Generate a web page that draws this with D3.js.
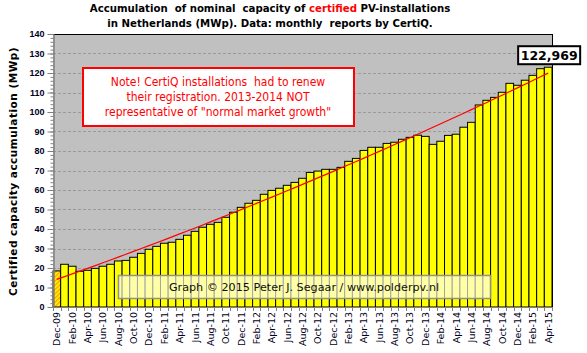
<!DOCTYPE html>
<meta charset="utf-8">
<style>
  body { margin: 0; background: #fff; }
  svg { display: block; font-family: "DejaVu Sans", Verdana, sans-serif; }
  .title { font-family: "DejaVu Sans Condensed", "DejaVu Sans", sans-serif; font-weight: bold; font-size: 11.3px; fill: #000; white-space: pre; }
  .ylabel { font-weight: bold; font-size: 10.5px; letter-spacing: 0.5px; }
  .ytick text { font-weight: bold; font-size: 9px; fill: #000022; }
  .xtick { font-size: 9.5px; fill: #000022; }
  .note { font-family: "DejaVu Sans Condensed", "DejaVu Sans", sans-serif; font-size: 12px; fill: #ff0000; white-space: pre; }
  .credit { font-size: 11.2px; fill: #111; }
  .last { font-weight: bold; font-size: 12.5px; }
</style>
<body>
<div id="chart"></div>
<script src="https://d3js.org/d3.v7.min.js"></script>
<script>

  const months = [
    "Dec-09",
    "Jan-10", "Feb-10", "Mar-10", "Apr-10", "May-10", "Jun-10", "Jul-10", "Aug-10", "Sep-10", "Oct-10", "Nov-10", "Dec-10",
    "Jan-11", "Feb-11", "Mar-11", "Apr-11", "May-11", "Jun-11", "Jul-11", "Aug-11", "Sep-11", "Oct-11", "Nov-11", "Dec-11",
    "Jan-12", "Feb-12", "Mar-12", "Apr-12", "May-12", "Jun-12", "Jul-12", "Aug-12", "Sep-12", "Oct-12", "Nov-12", "Dec-12",
    "Jan-13", "Feb-13", "Mar-13", "Apr-13", "May-13", "Jun-13", "Jul-13", "Aug-13", "Sep-13", "Oct-13", "Nov-13", "Dec-13",
    "Jan-14", "Feb-14", "Mar-14", "Apr-14", "May-14", "Jun-14", "Jul-14", "Aug-14", "Sep-14", "Oct-14", "Nov-14", "Dec-14",
    "Jan-15", "Feb-15", "Mar-15", "Apr-15"
  ];

  // MWp, accumulated certified capacity per month
  const capacity = [
    18.5,
    21.9, 20.9, 18.3, 18.8, 19.8, 20.9, 21.9, 23.6, 23.9, 25.5, 27.5, 29.6,
    31.1, 32.7, 33.2, 34.7, 36.8, 38.8, 40.9, 42.4, 43.4, 46.0, 48.6, 51.1,
    53.2, 54.7, 57.8, 59.8, 60.9, 62.4, 63.9, 66.0, 69.0, 69.7, 70.6, 70.6,
    71.6, 74.7, 76.2, 80.3, 81.9, 81.9, 83.9, 84.5, 86.0, 87.0, 88.1, 87.5,
    83.4, 85.0, 88.0, 88.6, 92.2, 94.7, 103.6, 106.0, 107.5, 110.1, 114.7, 113.7,
    116.3, 118.8, 122.2, 122.969
  ];

  const yTicks = [0, 10, 20, 30, 40, 50, 60, 70, 80, 90, 100, 110, 120, 130, 140];
  const yMinorStep = 2;

  const titleLines = [
    [{t: "Accumulation  of nominal  capacity of ", c: "#000"}, {t: "certified", c: "#ff0000"}, {t: " PV-installations", c: "#000"}],
    [{t: "in Netherlands (MWp). Data: monthly  reports by CertiQ.", c: "#000"}]
  ];
  const noteLines = [
    "Note! CertiQ installations  had to renew",
    "their registration. 2013-2014 NOT",
    "representative of \"normal market growth\""
  ];
  const creditText = "Graph \u00a9 2015 Peter J. Segaar / www.polderpv.nl";
  const lastLabel = "122,969";

  const width = 587, height = 353;
  const margin = {top: 34, right: 35, bottom: 46, left: 53};

  const svg = d3.select("#chart").append("svg")
    .attr("width", width)
    .attr("height", height);

  const x = d3.scaleBand()
    .domain(months)
    .range([margin.left, width - margin.right])
    .padding(0);

  const y = d3.scaleLinear()
    .domain([0, 140])
    .range([height - margin.bottom, margin.top]);

  const bw = x.bandwidth();

  // hatch for the first (reference) month
  const defs = svg.append("defs");
  const pat = defs.append("pattern")
    .attr("id", "hatch")
    .attr("patternUnits", "userSpaceOnUse")
    .attr("width", 3)
    .attr("height", 3)
    .attr("patternTransform", "rotate(45)");
  pat.append("rect").attr("width", 3).attr("height", 3).attr("fill", "#ffff00");
  pat.append("rect").attr("width", 1.4).attr("height", 3).attr("fill", "#ff9a00");

  // plot background
  svg.append("rect")
    .attr("x", margin.left)
    .attr("y", margin.top)
    .attr("width", width - margin.left - margin.right)
    .attr("height", height - margin.top - margin.bottom)
    .attr("fill", "#c0c0c0");

  // gridlines
  svg.append("g")
    .selectAll("line")
    .data(yTicks.filter(d => d > 0 && d < 140))
    .join("line")
    .attr("x1", margin.left)
    .attr("x2", width - margin.right)
    .attr("y1", d => Math.round(y(d)) + 0.5)
    .attr("y2", d => Math.round(y(d)) + 0.5)
    .attr("stroke", "#9a9a9a")
    .attr("stroke-dasharray", "3,2");

  // bars
  svg.append("g")
    .selectAll("rect")
    .data(capacity)
    .join("rect")
    .attr("x", (d, i) => x(months[i]))
    .attr("y", d => y(d))
    .attr("width", bw)
    .attr("height", d => y(0) - y(d))
    .attr("fill", (d, i) => i === 0 ? "url(#hatch)" : "#ffff00")
    .attr("stroke", "#000")
    .attr("stroke-width", 1);

  // trendline: 2nd order least squares fit
  function polyfit2(xs, ys) {
    const S = [0, 0, 0, 0, 0], T = [0, 0, 0];
    xs.forEach((xv, i) => {
      for (let k = 0; k < 5; k++) S[k] += Math.pow(xv, k);
      for (let k = 0; k < 3; k++) T[k] += Math.pow(xv, k) * ys[i];
    });
    const A = [[S[0], S[1], S[2], T[0]], [S[1], S[2], S[3], T[1]], [S[2], S[3], S[4], T[2]]];
    for (let c = 0; c < 3; c++) {
      for (let r = c + 1; r < 3; r++) {
        const f = A[r][c] / A[c][c];
        for (let k = c; k < 4; k++) A[r][k] -= f * A[c][k];
      }
    }
    const coef = [0, 0, 0];
    for (let r = 2; r >= 0; r--) {
      let s = A[r][3];
      for (let k = r + 1; k < 3; k++) s -= A[r][k] * coef[k];
      coef[r] = s / A[r][r];
    }
    return coef;
  }
  const idx = capacity.map((d, i) => i);
  const coef = polyfit2(idx, capacity);
  const trend = idx.map(i => coef[0] + coef[1] * i + coef[2] * i * i);

  svg.append("path")
    .datum(trend)
    .attr("fill", "none")
    .attr("stroke", "#ff0000")
    .attr("stroke-width", 1.2)
    .attr("d", d3.line()
      .x((d, i) => x(months[i]) + bw / 2)
      .y(d => y(d)));

  // frame: black top and right, grey axes
  svg.append("line")
    .attr("x1", margin.left - 5).attr("x2", width - margin.right + 0.5)
    .attr("y1", margin.top + 0.5).attr("y2", margin.top + 0.5)
    .attr("stroke", "#000");
  svg.append("line")
    .attr("x1", width - margin.right + 0.5).attr("x2", width - margin.right + 0.5)
    .attr("y1", margin.top).attr("y2", y(0))
    .attr("stroke", "#000");

  // y axis
  const yMinor = svg.append("g")
    .attr("transform", `translate(${margin.left + 0.5},0)`)
    .call(d3.axisLeft(y)
      .tickValues(d3.range(0, 141, yMinorStep))
      .tickSize(3)
      .tickSizeOuter(0)
      .tickFormat(""));
  yMinor.selectAll("line, path").attr("stroke", "#808080");

  const yAxis = svg.append("g")
    .attr("class", "ytick")
    .attr("transform", `translate(${margin.left + 0.5},0)`)
    .call(d3.axisLeft(y)
      .tickValues(yTicks)
      .tickSize(6)
      .tickSizeOuter(0)
      .tickPadding(3)
      .tickFormat(d3.format("d")));
  yAxis.selectAll("line, path").attr("stroke", "#808080");
  yAxis.selectAll("text").attr("font-family", null).attr("font-size", null);

  // x axis: ticks at every month boundary, labels every other month
  const xAxis = svg.append("g");
  xAxis.append("line")
    .attr("x1", margin.left).attr("x2", width - margin.right)
    .attr("y1", y(0) + 0.5).attr("y2", y(0) + 0.5)
    .attr("stroke", "#808080");
  xAxis.selectAll(".xt")
    .data(months.concat([null]))
    .join("line")
    .attr("class", "xt")
    .attr("x1", (d, i) => Math.round(margin.left + i * bw) + 0.5)
    .attr("x2", (d, i) => Math.round(margin.left + i * bw) + 0.5)
    .attr("y1", y(0))
    .attr("y2", y(0) + 4)
    .attr("stroke", "#808080");
  xAxis.selectAll("text")
    .data(months.filter((d, i) => i % 2 === 0))
    .join("text")
    .attr("class", "xtick")
    .attr("text-anchor", "end")
    .attr("transform", d => `translate(${x(d) + bw / 2 + 3.5},${y(0) + 5}) rotate(-90)`)
    .text(d => d);

  // y axis title
  svg.append("text")
    .attr("class", "ylabel")
    .attr("text-anchor", "middle")
    .attr("transform", `translate(17,${(margin.top + y(0)) / 2 + 1}) rotate(-90)`)
    .text("Certified capacity accumulation (MWp)");

  // title
  const title = svg.append("text")
    .attr("class", "title")
    .attr("text-anchor", "middle");
  titleLines.forEach((line, li) => {
    const t = title.append("tspan")
      .attr("x", 270)
      .attr("y", 12 + li * 15);
    line.forEach(seg => {
      if (seg === line[0]) {
        t.attr("fill", seg.c).text(seg.t);
      } else {
        title.append("tspan").attr("fill", seg.c).text(seg.t);
      }
    });
  });

  // note box
  const note = svg.append("g");
  note.append("rect")
    .attr("x", 83).attr("y", 68)
    .attr("width", 271).attr("height", 58)
    .attr("fill", "#fff")
    .attr("stroke", "#ff0000")
    .attr("stroke-width", 2);
  note.append("text")
    .attr("class", "note")
    .attr("text-anchor", "middle")
    .selectAll("tspan")
    .data(noteLines)
    .join("tspan")
    .attr("x", 218)
    .attr("y", (d, i) => 86 + i * 15)
    .text(d => d);

  // credit box
  const credit = svg.append("g");
  credit.append("rect")
    .attr("x", 118.5).attr("y", 275.5)
    .attr("width", 372).attr("height", 23)
    .attr("fill", "#fff")
    .attr("fill-opacity", 0.65)
    .attr("stroke", "#909090")
    .attr("stroke-width", 1.5);
  credit.append("text")
    .attr("class", "credit")
    .attr("text-anchor", "middle")
    .attr("x", 304)
    .attr("y", 291)
    .text(creditText);

  // label for the last month
  const lx = x(months[months.length - 1]) + bw / 2 + 1;
  const ly = y(capacity[capacity.length - 1]) - 3;
  const lab = svg.append("g");
  lab.append("rect")
    .attr("x", lx - 31).attr("y", ly - 18)
    .attr("width", 62).attr("height", 18)
    .attr("fill", "#fff")
    .attr("stroke", "#000")
    .attr("stroke-width", 2);
  lab.append("text")
    .attr("class", "last")
    .attr("text-anchor", "middle")
    .attr("x", lx)
    .attr("y", ly - 4)
    .text(lastLabel);

</script>
